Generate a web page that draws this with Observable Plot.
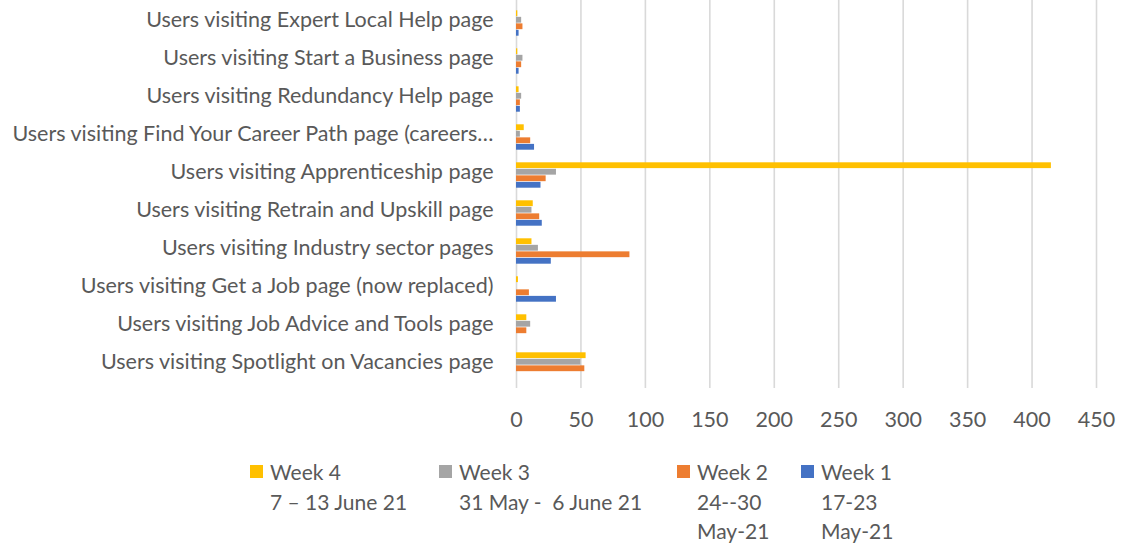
<!DOCTYPE html>
<html>
<head>
<meta charset="utf-8">
<script src="https://cdn.jsdelivr.net/npm/d3@7"></script>
<script src="https://cdn.jsdelivr.net/npm/@observablehq/plot@0.6"></script>
<style>
  html, body { margin: 0; padding: 0; background: #fff; }
  #chart { position: relative; width: 1121px; height: 547px; font-family: Lato, sans-serif; color: #595959; }
  #legend { position: relative; height: 100px; font-size: 21px; line-height: 29.5px; }
  .item { position: absolute; top: 12px; }
  .sw { position: absolute; width: 13px; height: 13px; top: 8px; left: 0; }
  .lbl { position: absolute; left: 20px; white-space: pre; }
</style>
</head>
<body>
<div id="chart"></div>
<script>
// ---- data ----
const categories = [
  "Users visiting Expert Local Help page",
  "Users visiting Start a Business page",
  "Users visiting Redundancy Help page",
  "Users visiting Find Your Career Path page (careers…",
  "Users visiting Apprenticeship page",
  "Users visiting Retrain and Upskill page",
  "Users visiting Industry sector pages",
  "Users visiting Get a Job page (now replaced)",
  "Users visiting Job Advice and Tools page",
  "Users visiting Spotlight on Vacancies page"
];
const week4 = [1, 1, 2, 6, 415, 13, 12, 1.5, 8, 54];
const week3 = [4, 5, 4, 3, 31, 12, 17, 0, 11, 50];
const week2 = [5, 4, 3, 11, 23, 18, 88, 10, 8, 53];
const week1 = [2, 2, 3, 14, 19, 20, 27, 31, 0, 0];
const seriesNames = ["Week 4", "Week 3", "Week 2", "Week 1"];
const seriesDates = [["7 – 13 June 21"], ["31 May -  6 June 21"], ["24--30", "May-21"], ["17-23", "May-21"]];
const seriesColors = ["#FFC000", "#A5A5A5", "#ED7D31", "#4472C4"];
const xTicks = [0, 50, 100, 150, 200, 250, 300, 350, 400, 450];

// ---- layout ----
const W = 1121, H = 445, mt = 0, mb = 57, ml = 516, mr = 25;
const padIn = 0.327;
const step = (H - mt - mb) / categories.length;
const bw = step * (1 - padIn);
const slot = bw / 4;

const allSeries = [week4, week3, week2, week1];
const rows = [];
allSeries.forEach((vals, s) => vals.forEach((v, i) => rows.push({category: categories[i], series: seriesNames[s], value: v})));

const barMarks = seriesNames.map((name, s) =>
  Plot.barX(rows.filter(d => d.series === name), {
    x: "value", y: "category", fill: seriesColors[s],
    insetTop: s * slot + 0.3, insetBottom: (3 - s) * slot + 0.3
  })
);

const plot = Plot.plot({
  width: W, height: H,
  marginTop: mt, marginBottom: mb, marginLeft: ml, marginRight: mr,
  style: {fontFamily: "Lato, sans-serif", fontSize: "21.5px", color: "#595959", background: "transparent"},
  x: {domain: [0, 450], label: null},
  y: {domain: categories, paddingInner: padIn, paddingOuter: padIn / 2, label: null},
  marks: [
    Plot.ruleX(xTicks, {stroke: "#D9D9D9", strokeWidth: 1.6}),
    ...barMarks,
    Plot.axisX({ticks: xTicks, tickSize: 0, tickPadding: 23, label: null}),
    Plot.axisY({tickSize: 0, tickPadding: 23, dy: -3, label: null})
  ]
});
document.getElementById("chart").appendChild(plot);

// ---- legend ----
const legend = document.createElement("div");
legend.id = "legend";
const lefts = [250, 439, 677, 801];
seriesNames.forEach((name, s) => {
  const it = document.createElement("div");
  it.className = "item";
  it.style.left = lefts[s] + "px";
  const sw = document.createElement("div");
  sw.className = "sw";
  sw.style.background = seriesColors[s];
  const lb = document.createElement("div");
  lb.className = "lbl";
  lb.textContent = [name, ...seriesDates[s]].join("\n");
  it.appendChild(sw); it.appendChild(lb);
  legend.appendChild(it);
});
document.getElementById("chart").appendChild(legend);
</script>
</body>
</html>
